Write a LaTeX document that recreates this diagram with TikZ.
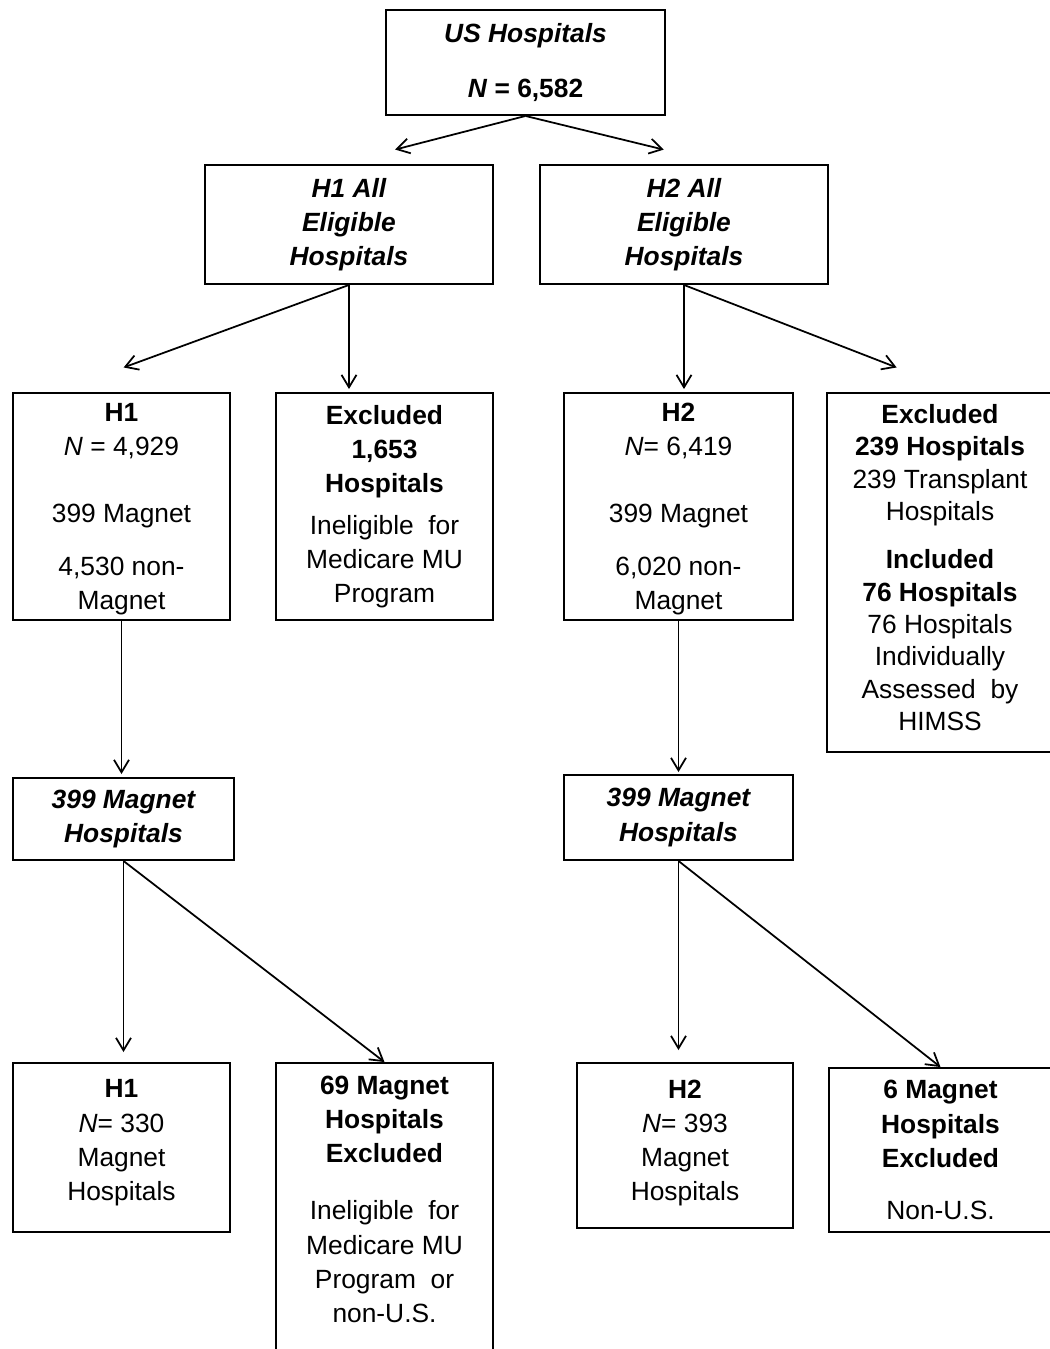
\documentclass[tikz,border=0pt]{standalone}
\usepackage{fontspec}
\setmainfont{Liberation Sans}
\usetikzlibrary{arrows.meta}

\begin{document}
\begin{tikzpicture}[x=0.02cm,y=-0.02cm,->,>={Straight Barb[length=2.5mm,width=3mm]},line width=1pt,
                    main node/.style={rectangle,draw,line width=1.1pt,inner sep=2pt,align=center,font=\fontsize{15}{19.4}\selectfont},
                    title node/.style={main node,font=\fontsize{15}{19.4}\selectfont\bfseries\itshape}]
        \useasboundingbox (0,0) rectangle (1049,1349);

        \node[main node,font=\fontsize{15}{19.4}\selectfont\bfseries,minimum width=5.58cm,minimum height=2.1cm] (1) at (525.5,62.5)
            {\textit{US Hospitals}\\[0.42cm]\textit{N} = 6,582};
        \node[title node,minimum width=5.76cm,minimum height=2.38cm] (2) at (349,224.5) {H1 All\\Eligible\\Hospitals};
        \node[title node,minimum width=5.76cm,minimum height=2.38cm] (3) at (684,224.5) {H2 All\\Eligible\\Hospitals};

        \node[main node,text depth=0pt,minimum width=4.34cm,minimum height=4.54cm] (4) at (121.5,506.5)
            {\textbf{H1}\\\textit{N} = 4,929\\[0.66cm]399 Magnet\\[0.38cm]4,530 non-\\Magnet};
        \node[main node,minimum width=4.34cm,minimum height=4.54cm] (5) at (384.5,506.5)
            {\textbf{Excluded}\\\textbf{1,653}\\\textbf{Hospitals}\\[0.16cm]Ineligible\ \ for\\Medicare MU\\Program};
        \node[main node,text depth=0pt,minimum width=4.58cm,minimum height=4.54cm] (6) at (678.5,506.5)
            {\textbf{H2}\\\textit{N}= 6,419\\[0.66cm]399 Magnet\\[0.38cm]6,020 non-\\Magnet};
        \node[main node,font=\fontsize{15}{18.4}\selectfont,text depth=0.2cm,minimum width=4.52cm,minimum height=7.18cm] (7) at (940,572.5)
            {\textbf{Excluded}\\\textbf{239 Hospitals}\\239 Transplant\\Hospitals\\[0.32cm]\textbf{Included}\\\textbf{76 Hospitals}\\76 Hospitals\\Individually\\Assessed\ \ by\\HIMSS};

        \node[title node,minimum width=4.42cm,minimum height=1.64cm] (8) at (123.5,819) {399 Magnet\\Hospitals};
        \node[title node,minimum width=4.58cm,minimum height=1.7cm] (9) at (678.5,817.5) {399 Magnet\\Hospitals};

        \node[main node,text depth=0.3cm,minimum width=4.34cm,minimum height=3.38cm] (10) at (121.5,1147.5)
            {\textbf{H1}\\\textit{N}= 330\\Magnet\\Hospitals};
        \node[main node,text depth=0.55cm,minimum width=4.34cm,minimum height=6cm] (11) at (384.5,1213)
            {\textbf{69 Magnet}\\\textbf{Hospitals}\\\textbf{Excluded}\\[0.46cm]Ineligible\ \ for\\Medicare MU\\Program\ \ or\\non-U.S.};
        \node[main node,text depth=0.2cm,minimum width=4.32cm,minimum height=3.3cm] (12) at (685,1145.5)
            {\textbf{H2}\\\textit{N}= 393\\Magnet\\Hospitals};
        \node[main node,minimum width=4.46cm,minimum height=3.28cm] (13) at (940.5,1150)
            {\textbf{6 Magnet}\\\textbf{Hospitals}\\\textbf{Excluded}\\[0.36cm]Non-U.S.};

        \path
            (1.south) edge[shorten >=1.16cm] ([xshift=-0.2cm]2.north)
            (1.south) edge[shorten >=1.22cm] ([xshift=0.78cm]3.north)
            (2.south) edge[shorten >=1.43cm] ([xshift=-1.3cm]4.north)
            (2.south) edge[shorten >=0.06cm] (2.south |- 5.north)
            (3.south) edge[shorten >=0.06cm] (3.south |- 6.north)
            (3.south) edge[shorten >=1.36cm] ([xshift=0.4cm]7.north)
            (4.south) edge[shorten >=0.06cm] (4.south |- 8.north)
            (6.south) edge[shorten >=0.04cm] (6.south |- 9.north)
            (8.south) edge[shorten >=0.2cm] (8.south |- 10.north)
            (8.south) edge (11.north)
            (9.south) edge[shorten >=0.24cm] (9.south |- 12.north)
            (9.south) edge (13.north);
        \end{tikzpicture}
\end{document}
